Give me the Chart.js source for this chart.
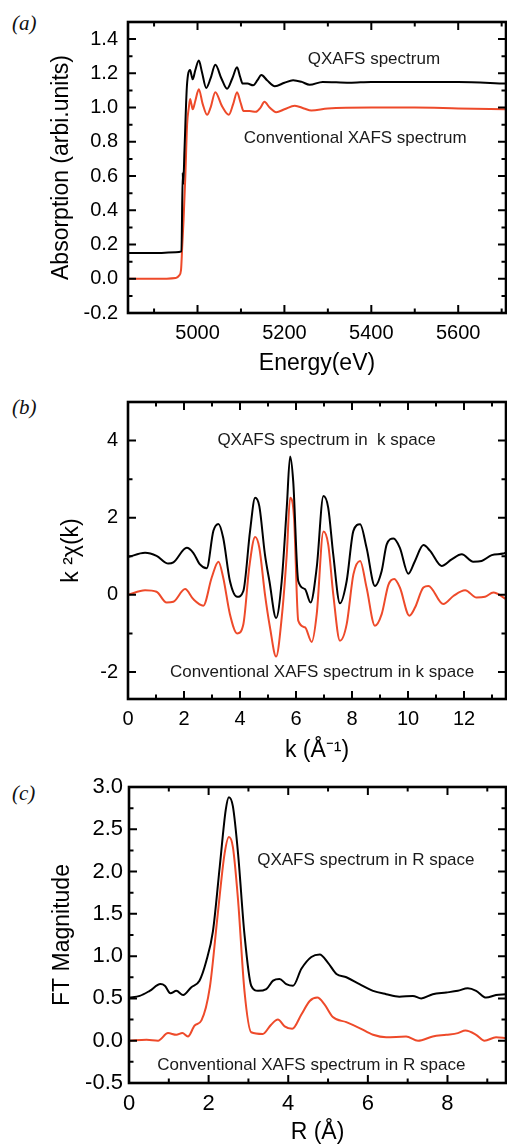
<!DOCTYPE html>
<html>
<head>
<meta charset="utf-8">
<script src="https://cdn.jsdelivr.net/npm/chart.js"></script>
<style>
  body { margin: 0; background: #fff; width: 507px; height: 1144px; position: relative; overflow: hidden; }
  .panel { position: absolute; left: 0; }
  .tag { position: absolute; left: 12px; font: italic 21px "Liberation Serif", "DejaVu Serif", serif; color: #111; }
</style>
</head>
<body>
<div class="tag" style="top:11px">(a)</div>
<div class="tag" style="top:395px">(b)</div>
<div class="tag" style="top:781px">(c)</div>
<canvas id="chartA" class="panel" style="top:0" width="507" height="380"></canvas>
<canvas id="chartB" class="panel" style="top:380px" width="507" height="384"></canvas>
<canvas id="chartC" class="panel" style="top:760px" width="507" height="390"></canvas>
<script>
// (a) absorption vs energy
const energyQ = [4840, 4900, 4950, 4963, 4966, 4967, 4970, 4975, 4978, 4983, 4986, 4989, 4995, 5003, 5010, 5020, 5030, 5041, 5055, 5068, 5080, 5091, 5098, 5104, 5115, 5128, 5138, 5147, 5160, 5178, 5200, 5220, 5240, 5258, 5288, 5350, 5400, 5500, 5600, 5710];
const absQ = [0.15, 0.15, 0.155, 0.16, 0.62, 0.55, 0.75, 1.1, 1.19, 1.22, 1.19, 1.165, 1.22, 1.275, 1.21, 1.115, 1.17, 1.25, 1.17, 1.11, 1.17, 1.235, 1.18, 1.14, 1.14, 1.13, 1.16, 1.19, 1.16, 1.125, 1.145, 1.16, 1.15, 1.133, 1.15, 1.145, 1.15, 1.15, 1.15, 1.14];
const energyC = [4840, 4900, 4950, 4958, 4962, 4965, 4968, 4972, 4976, 4980, 4983, 4986, 4989, 4995, 5003, 5012, 5022, 5030, 5041, 5056, 5072, 5082, 5091, 5099, 5106, 5120, 5134, 5145, 5154, 5166, 5181, 5200, 5224, 5245, 5262, 5300, 5400, 5500, 5600, 5710];
const absC = [0.0, 0.0, 0.005, 0.02, 0.05, 0.2, 0.35, 0.6, 0.9, 1.0, 1.05, 1.02, 0.99, 1.04, 1.107, 1.02, 0.958, 1.0, 1.09, 1.01, 0.958, 1.02, 1.09, 1.03, 0.98, 0.98, 0.975, 1.0, 1.034, 1.0, 0.973, 0.99, 1.011, 0.995, 0.983, 0.995, 1.0, 1.0, 0.995, 0.99];

// (b) k-space
const kQ = [0, 0.61, 1.02, 1.44, 1.62, 2.1, 2.33, 2.57, 2.81, 3.05, 3.23, 3.40, 3.64, 3.90, 4.12, 4.36, 4.54, 4.69, 4.89, 5.05, 5.29, 5.49, 5.67, 5.79, 5.90, 6.08, 6.32, 6.52, 6.74, 6.98, 7.15, 7.33, 7.57, 7.81, 8.05, 8.29, 8.52, 8.82, 9.06, 9.24, 9.48, 9.71, 10.01, 10.25, 10.55, 10.79, 11.20, 11.56, 11.92, 12.33, 12.63, 12.99, 13.40, 13.5];
const chiQ = [0.98, 1.09, 1.01, 0.81, 0.84, 1.22, 1.09, 0.79, 0.69, 1.66, 1.84, 1.48, 0.36, -0.05, 0.10, 1.66, 2.52, 2.30, 1.05, 0.36, -0.60, 0.36, 2.26, 3.59, 2.95, 0.36, 0.15, -0.20, 0.71, 2.56, 2.26, 1.05, -0.22, 0.36, 1.66, 1.83, 1.22, 0.23, 0.62, 1.31, 1.46, 1.22, 0.55, 0.88, 1.29, 1.14, 0.75, 0.92, 1.05, 0.86, 0.88, 1.03, 1.07, 1.1];
const kC = [0, 0.61, 1.02, 1.38, 1.62, 2.04, 2.33, 2.69, 2.99, 3.23, 3.40, 3.64, 3.90, 4.12, 4.33, 4.54, 4.69, 4.89, 5.07, 5.29, 5.49, 5.67, 5.79, 5.93, 6.08, 6.32, 6.56, 6.74, 6.98, 7.15, 7.33, 7.57, 7.81, 8.05, 8.29, 8.52, 8.82, 9.06, 9.30, 9.51, 9.71, 10.05, 10.25, 10.55, 10.73, 11.26, 11.62, 12.04, 12.45, 12.75, 13.05, 13.5];
const chiC = [0, 0.12, 0.08, -0.20, -0.18, 0.15, -0.11, -0.28, 0.45, 0.86, 0.45, -0.50, -1.0, -0.76, 0.71, 1.50, 1.22, 0.02, -0.84, -1.60, -0.59, 1.05, 2.52, 2.0, -0.67, -0.84, -1.22, -0.50, 1.64, 1.31, 0.02, -1.19, -0.76, 0.53, 0.88, 0.19, -0.80, -0.50, 0.26, 0.41, 0.19, -0.54, -0.33, 0.19, 0.23, -0.24, -0.03, 0.12, -0.07, -0.05, 0.06, -0.11];

// (c) R-space
const rQ = [0, 0.27, 0.52, 0.79, 0.90, 1.04, 1.19, 1.36, 1.56, 1.77, 1.94, 2.11, 2.28, 2.43, 2.51, 2.61, 2.74, 2.90, 3.07, 3.24, 3.45, 3.62, 3.78, 3.95, 4.12, 4.33, 4.58, 4.79, 5.0, 5.21, 5.46, 5.79, 6.13, 6.46, 6.79, 7.13, 7.34, 7.63, 7.97, 8.26, 8.51, 8.72, 8.97, 9.22, 9.47];
const ftQ = [0.51, 0.53, 0.59, 0.67, 0.65, 0.56, 0.59, 0.54, 0.63, 0.71, 0.94, 1.30, 2.06, 2.73, 2.88, 2.77, 2.21, 1.26, 0.65, 0.59, 0.61, 0.71, 0.73, 0.67, 0.65, 0.85, 0.99, 1.02, 0.92, 0.79, 0.75, 0.67, 0.59, 0.55, 0.52, 0.53, 0.50, 0.55, 0.57, 0.59, 0.62, 0.59, 0.51, 0.54, 0.55];
const rC = [0, 0.44, 0.73, 0.98, 1.19, 1.34, 1.48, 1.65, 1.82, 2.03, 2.23, 2.40, 2.51, 2.61, 2.74, 2.90, 3.07, 3.36, 3.57, 3.74, 3.91, 4.10, 4.33, 4.54, 4.73, 4.91, 5.12, 5.46, 5.79, 6.13, 6.46, 6.96, 7.26, 7.63, 7.97, 8.26, 8.45, 8.72, 8.93, 9.22, 9.47];
const ftC = [0.0, 0.01, 0.0, 0.09, 0.07, 0.09, 0.05, 0.18, 0.24, 0.63, 1.50, 2.21, 2.41, 2.29, 1.66, 0.59, 0.10, 0.08, 0.19, 0.25, 0.17, 0.14, 0.31, 0.47, 0.51, 0.43, 0.28, 0.22, 0.15, 0.07, 0.04, 0.05, 0.0, 0.05, 0.07, 0.09, 0.12, 0.07, 0.0, 0.04, 0.03];

const FONT = '"Liberation Sans", Arial, sans-serif';
const RED = '#ee4a2a';

const pts = (xs, ys) => xs.map((x, i) => ({ x: x, y: ys[i] }));

// inward ticks on all four sides (major + minor halfway), frame, and text notes
function drawTicks(ctx, scale, a, horiz) {
  const t = scale.ticks;
  const step = t[1].value - t[0].value;
  const half = step / 2;
  for (let v = Math.ceil(scale.min / half - 1e-6) * half; v <= scale.max + 1e-9; v += half) {
    const d = (v - t[0].value) / step;
    const len = Math.abs(d - Math.round(d)) < 1e-6 ? 8 : 4.5;
    const p = scale.getPixelForValue(v);
    ctx.beginPath();
    if (horiz) {
      ctx.moveTo(p, a.bottom); ctx.lineTo(p, a.bottom - len);
      ctx.moveTo(p, a.top); ctx.lineTo(p, a.top + len);
    } else {
      ctx.moveTo(a.left, p); ctx.lineTo(a.left + len, p);
      ctx.moveTo(a.right, p); ctx.lineTo(a.right - len, p);
    }
    ctx.stroke();
  }
}

const framePlugin = {
  id: 'frame',
  afterDatasetsDraw(chart, args, opts) {
    const { ctx, chartArea: a } = chart;
    const x = chart.scales.x, y = chart.scales.y;
    ctx.save();
    ctx.strokeStyle = '#000';
    ctx.lineWidth = 2;
    drawTicks(ctx, x, a, true);
    drawTicks(ctx, y, a, false);
    ctx.lineWidth = 2.6;
    ctx.strokeRect(a.left, a.top, a.right - a.left, a.bottom - a.top);
    ctx.fillStyle = '#1a1a1a';
    ctx.font = '17px ' + FONT;
    ctx.textAlign = 'center';
    ctx.textBaseline = 'middle';
    (opts.notes || []).forEach(n => ctx.fillText(n.text, x.getPixelForValue(n.x), y.getPixelForValue(n.y)));
    ctx.restore();
  }
};

function makePanel(id, cfg) {
  const el = document.getElementById(id);
  return new Chart(el, {
    type: 'line',
    data: {
      datasets: [
        { data: cfg.black, borderColor: '#000', borderWidth: 2, pointRadius: 0, cubicInterpolationMode: 'monotone' },
        { data: cfg.red, borderColor: RED, borderWidth: 2, pointRadius: 0, cubicInterpolationMode: 'monotone' }
      ]
    },
    options: {
      responsive: false,
      animation: false,
      devicePixelRatio: 1,
      layout: { padding: { top: cfg.top, right: 1, left: 0, bottom: 0 } },
      plugins: { legend: { display: false }, tooltip: { enabled: false }, frame: { notes: cfg.notes } },
      scales: {
        x: {
          type: 'linear', min: cfg.xMin, max: cfg.xMax,
          grid: { display: false, drawTicks: false }, border: { display: false },
          ticks: { stepSize: cfg.xStep, includeBounds: false, autoSkip: false, maxRotation: 0, padding: 8, color: '#000', font: { family: FONT, size: cfg.tickSize }, callback: v => String(v) },
          title: { display: true, text: cfg.xTitle, color: '#000', font: { family: FONT, size: 23 }, padding: { top: 0, bottom: cfg.xTitlePad } },
          afterFit: s => { s.height = el.height - cfg.bottom; }
        },
        y: {
          type: 'linear', min: cfg.yMin, max: cfg.yMax,
          grid: { display: false, drawTicks: false }, border: { display: false },
          ticks: { stepSize: cfg.yStep, includeBounds: false, autoSkip: false, padding: cfg.yTickPad, color: '#000', font: { family: FONT, size: cfg.tickSize }, callback: cfg.yFmt },
          title: { display: true, text: cfg.yTitle, color: '#000', font: { family: FONT, size: 23 }, padding: { top: cfg.yTitlePad, bottom: 0 } },
          afterFit: s => { s.width = cfg.left; }
        }
      }
    },
    plugins: [framePlugin]
  });
}

makePanel('chartA', {
  black: pts(energyQ, absQ), red: pts(energyC, absC),
  xMin: 4840, xMax: 5710, xStep: 200, yMin: -0.2, yMax: 1.5, yStep: 0.2,
  yFmt: v => v.toFixed(1), tickSize: 20, yTickPad: 10,
  xTitle: 'Energy(eV)', yTitle: 'Absorption (arbi.units)',
  top: 15, bottom: 313, left: 128, xTitlePad: 3, yTitlePad: 48,
  notes: [{ x: 5406, y: 1.28, text: 'QXAFS spectrum' }, { x: 5363, y: 0.82, text: 'Conventional XAFS spectrum' }]
});

makePanel('chartB', {
  black: pts(kQ, chiQ), red: pts(kC, chiC),
  xMin: 0, xMax: 13.5, xStep: 2, yMin: -2.7, yMax: 5, yStep: 2,
  yFmt: v => String(v), tickSize: 20, yTickPad: 10,
  xTitle: 'k (Å⁻¹)', yTitle: 'k ²χ(k)',
  top: 20, bottom: 319, left: 128, xTitlePad: 0, yTitlePad: 58,
  notes: [{ x: 7.09, y: 4.0, text: 'QXAFS spectrum in  k space' }, { x: 6.93, y: -2.0, text: 'Conventional XAFS spectrum in k space' }]
});

makePanel('chartC', {
  black: pts(rQ, ftQ), red: pts(rC, ftC),
  xMin: 0, xMax: 9.47, xStep: 2, yMin: -0.5, yMax: 3.0, yStep: 0.5,
  yFmt: v => v.toFixed(1), tickSize: 22, yTickPad: 6,
  xTitle: 'R (Å)', yTitle: 'FT Magnitude',
  top: 27, bottom: 323, left: 129, xTitlePad: 4, yTitlePad: 49,
  notes: [{ x: 5.95, y: 2.13, text: 'QXAFS spectrum in R space' }, { x: 4.58, y: -0.29, text: 'Conventional XAFS spectrum in R space' }]
});
</script>
</body>
</html>
